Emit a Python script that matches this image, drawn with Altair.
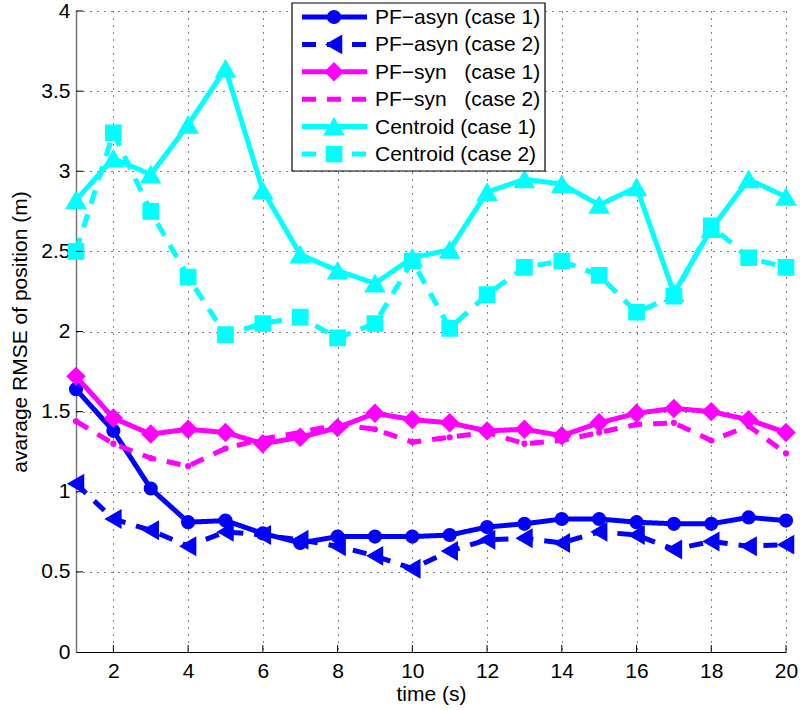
import altair as alt
import pandas as pd

# Time axis (s)
time_s = list(range(1, 21))

# Average position RMSE (m) per method and case
pf_asyn_case1 = [1.64, 1.38, 1.02, 0.81, 0.82, 0.74, 0.68, 0.72, 0.72, 0.72,
                 0.73, 0.78, 0.80, 0.83, 0.83, 0.81, 0.80, 0.80, 0.84, 0.82]
pf_asyn_case2 = [1.05, 0.83, 0.76, 0.66, 0.75, 0.73, 0.70, 0.66, 0.60, 0.52,
                 0.63, 0.70, 0.71, 0.68, 0.75, 0.73, 0.64, 0.69, 0.66, 0.67]
pf_syn_case1 = [1.72, 1.46, 1.36, 1.39, 1.37, 1.30, 1.34, 1.40, 1.49, 1.45,
                1.43, 1.38, 1.39, 1.35, 1.43, 1.49, 1.52, 1.50, 1.45, 1.37]
pf_syn_case2 = [1.44, 1.30, 1.21, 1.16, 1.27, 1.33, 1.37, 1.42, 1.39, 1.31,
                1.34, 1.37, 1.30, 1.32, 1.37, 1.42, 1.43, 1.32, 1.41, 1.24]
centroid_case1 = [2.82, 3.08, 2.98, 3.29, 3.64, 2.88, 2.48, 2.38, 2.30, 2.46,
                  2.51, 2.87, 2.95, 2.92, 2.79, 2.90, 2.24, 2.64, 2.95, 2.84]
centroid_case2 = [2.50, 3.24, 2.75, 2.34, 1.98, 2.05, 2.09, 1.96, 2.05, 2.44,
                  2.02, 2.23, 2.40, 2.44, 2.35, 2.12, 2.22, 2.66, 2.46, 2.40]

NB = "\u00a0"
series_labels = [
    "PF\u2212asyn (case 1)",
    "PF\u2212asyn (case 2)",
    "PF\u2212syn" + NB * 3 + "(case 1)",
    "PF\u2212syn" + NB * 3 + "(case 2)",
    "Centroid (case 1)",
    "Centroid (case 2)",
]
series_values = [pf_asyn_case1, pf_asyn_case2, pf_syn_case1,
                 pf_syn_case2, centroid_case1, centroid_case2]

x_ticks = list(range(2, 21, 2))
y_ticks = [0, 0.5, 1, 1.5, 2, 2.5, 3, 3.5, 4]

# Styling for each series
colors = ["#0000ff", "#0000ff", "#ff00ff", "#ff00ff", "#00ffff", "#00ffff"]
dashes = [[1, 0], [14, 11], [1, 0], [14, 11], [1, 0], [14, 11]]
shapes = ["circle", "triangle-left", "diamond", "circle", "triangle-up", "square"]
sizes = [160, 300, 300, 22, 360, 230]
legend_sizes = [160, 300, 300, 0, 360, 230]

FONT = "Liberation Sans"
FS = 21
LW = 5
W, H = 710, 641

x_enc = alt.X(
    "t:Q",
    scale=alt.Scale(domain=[1, 20], nice=False, zero=False),
    axis=alt.Axis(values=x_ticks, title="time (s)", grid=True, gridColor="#000000",
                  gridDash=[1, 6], gridWidth=1, tickSize=0, labelPadding=8,
                  labelFlush=False, domainColor="#000000", domainWidth=1.2,
                  titlePadding=2),
)
y_enc = alt.Y(
    "value:Q",
    scale=alt.Scale(domain=[0, 4], nice=False),
    axis=alt.Axis(values=y_ticks, format="~g", title="avarage RMSE of position (m)",
                  grid=True, gridColor="#000000", gridDash=[1, 6], gridWidth=1,
                  tickSize=0, labelPadding=6, labelFlush=False,
                  domainColor="#777777", domainWidth=1.5, titlePadding=10),
)

layers = []
for i, (name, vals) in enumerate(zip(series_labels, series_values)):
    df = pd.DataFrame({"t": time_s, "value": vals, "series": name})
    base = alt.Chart(df)
    layers.append(
        base.mark_line(color=colors[i], strokeWidth=LW, strokeDash=dashes[i],
                       strokeCap="butt", strokeJoin="miter")
        .encode(x=x_enc, y=y_enc)
    )
    layers.append(
        base.mark_point(shape=shapes[i], size=sizes[i], filled=True, fill=colors[i],
                        stroke=colors[i], strokeWidth=1.5, opacity=1)
        .encode(x=x_enc, y=y_enc)
    )

# Inward tick marks along both axes
xtick_df = pd.DataFrame({"t": x_ticks})
ytick_df = pd.DataFrame({"value": y_ticks[1:]})
layers.append(
    alt.Chart(xtick_df).mark_rule(color="#000000", strokeWidth=1)
    .encode(x=alt.X("t:Q"), y=alt.value(H), y2=alt.value(H - 7))
)
layers.append(
    alt.Chart(ytick_df).mark_rule(color="#000000", strokeWidth=1)
    .encode(y=alt.Y("value:Q"), x=alt.value(0), x2=alt.value(7))
)

main = alt.layer(*layers)

# Legend box with line samples, markers and labels
legend_df = pd.DataFrame({
    "row": list(range(6)),
    "label": series_labels,
    "color": colors,
    "dash": dashes,
    "shape": shapes,
    "size": legend_sizes,
})
row_y = alt.Y("row:Q", scale=alt.Scale(domain=[0, 5], range=[6, 143]), axis=None)

box = alt.Chart(pd.DataFrame({"b": [0]})).mark_rect(
    fill="white", stroke="#000000", strokeWidth=1.2
).encode(x=alt.value(216), x2=alt.value(469), y=alt.value(-8), y2=alt.value(160))

leg_lines = alt.Chart(legend_df).mark_rule(strokeWidth=LW, strokeCap="butt").encode(
    x=alt.value(226), x2=alt.value(291), y=row_y,
    color=alt.Color("color:N", scale=None),
    strokeDash=alt.StrokeDash("dash", scale=None),
)
leg_points = alt.Chart(legend_df).mark_point(filled=True, opacity=1, strokeWidth=1.5).encode(
    x=alt.value(258), y=row_y,
    fill=alt.Fill("color:N", scale=None),
    stroke=alt.Stroke("color:N", scale=None),
    shape=alt.Shape("shape:N", scale=None),
    size=alt.Size("size:Q", scale=None),
)
leg_text = alt.Chart(legend_df).mark_text(
    align="left", baseline="middle", font=FONT, fontSize=FS, color="#000000", dy=1
).encode(x=alt.value(299), y=row_y, text="label:N")

legend = alt.layer(box, leg_lines, leg_points, leg_text)

chart = (
    alt.layer(main, legend)
    .resolve_scale(y="independent")
    .properties(
        width=W,
        height=H,
        padding={"left": 76, "top": 11, "right": 14, "bottom": 58},
        autosize=alt.AutoSizeParams(type="none"),
        background="white",
    )
    .configure_view(stroke=None)
    .configure_axis(
        labelFont=FONT, labelFontSize=FS, labelColor="#000000",
        titleFont=FONT, titleFontSize=FS, titleFontWeight="normal", titleColor="#000000",
    )
)

chart.save("out.html", embed_options={"renderer": "svg", "actions": False})
